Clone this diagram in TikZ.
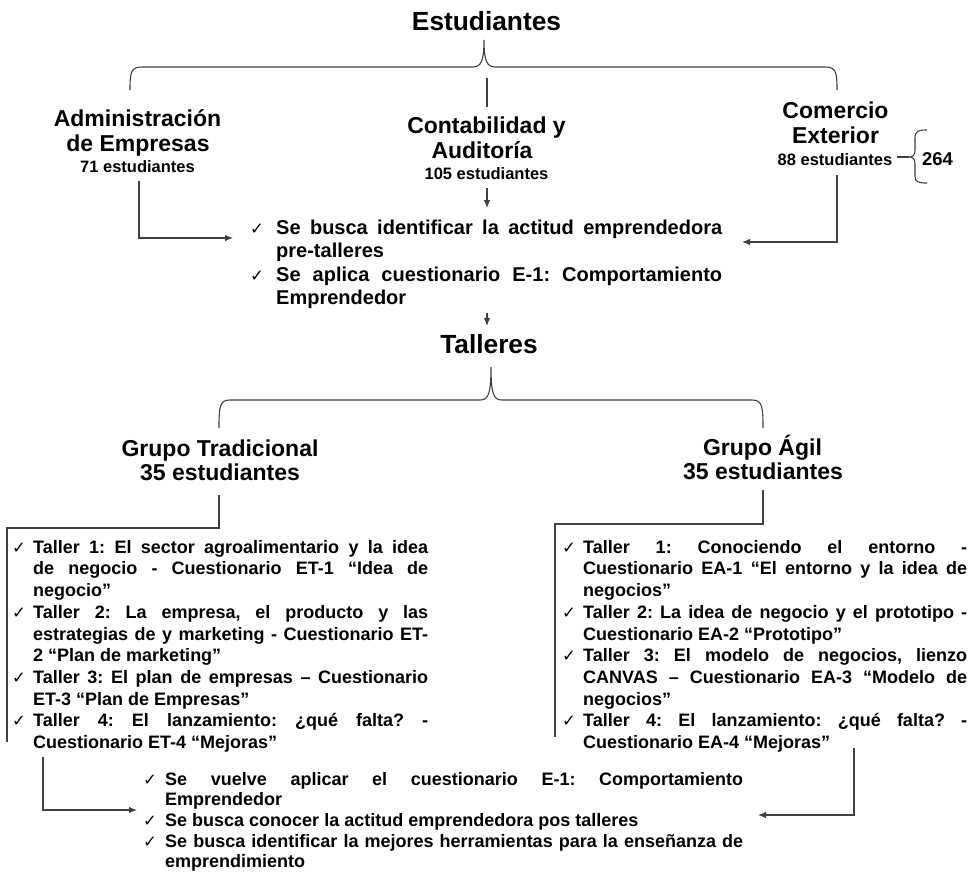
\documentclass[tikz,border=0pt]{standalone}
\usepackage{fontspec}
\setmainfont{Liberation Sans}
\newfontfamily\symfont{DejaVu Sans}
\usetikzlibrary{arrows.meta}
\newcommand{\chk}{{\symfont\fontsize{16.5}{16}\selectfont ✓}}
\newcommand{\chkitem}[2]{\noindent\hangindent=#1\hangafter=1\makebox[#1][l]{\chk}\rule{0pt}{15pt}\ignorespaces#2\par}
\hyphenpenalty=10000
\frenchspacing
\begin{document}
\begin{tikzpicture}[x=1pt,y=-1pt,
  ln/.style={line width=1.1pt, draw=black!75},
  arr/.style={ln, -{Latex[length=8pt,width=6.5pt]}},
  titletext/.style={font=\fontsize{26.3}{30}\selectfont\bfseries, inner sep=0, anchor=base},
  headtext/.style={font=\fontsize{23}{26}\selectfont\bfseries, inner sep=0, anchor=base},
  subtext/.style={font=\fontsize{16.5}{19}\selectfont\bfseries, inner sep=0, anchor=base},
  numtext/.style={font=\fontsize{18.5}{21}\selectfont\bfseries, inner sep=0, anchor=base},
  listA/.style={font=\fontsize{20}{23.5}\selectfont\bfseries\frenchspacing, inner sep=0, anchor=north west, align=justify},
  listB/.style={font=\fontsize{18}{21.7}\selectfont\bfseries\frenchspacing, inner sep=0, anchor=north west, align=justify},
  listC/.style={font=\fontsize{18}{20.6}\selectfont\bfseries\frenchspacing, inner sep=0, anchor=north west, align=justify}
]
\fill[white] (0,0) rectangle (971,876);
\useasboundingbox (0,0) rectangle (971,876);

% headings
\node[titletext] (est) at (486.5,30) {Estudiantes};
\node[headtext] (adm1) at (137.5,126) {Administración};
\node[headtext] (adm2) at (138,151) {de Empresas};
\node[subtext] (adm3) at (137.5,172) {71 estudiantes};
\node[headtext] (con1) at (486.5,133) {Contabilidad y};
\node[headtext] (con2) at (482,158) {Auditoría};
\node[subtext] (con3) at (486.5,179) {105 estudiantes};
\node[headtext] (com1) at (835.5,118) {Comercio};
\node[headtext] (com2) at (835.5,143) {Exterior};
\node[subtext] (com3) at (835,165) {88 estudiantes};
\node[numtext] (tot) at (937.5,165) {264};

% top brace
\draw[ln] (130,90) .. controls (130,72) and (131,67) .. (142,67) -- (472,67)
  .. controls (481,67) and (484,62) .. (484,40)
  .. controls (484,62) and (487,67) .. (496,67) -- (825,67)
  .. controls (836,67) and (837,72) .. (837,90);
\coordinate (cl1) at (487,78); \coordinate (cl2) at (487,107);
\draw[ln] (cl1) -- (cl2);

% 264 brace
\coordinate (d1) at (897,157); \coordinate (d2) at (909,157);
\draw[ln] (d1) -- (d2);
\draw[ln] (927,130) .. controls (918,130) and (915,131) .. (915,138) -- (915,150)
  .. controls (915,155) and (913,157) .. (d2)
  .. controls (913,157) and (915,159) .. (915,164) -- (915,176)
  .. controls (915,182) and (918,183) .. (927,183);

% first list
\node[listA, text width=472pt] (pre) at (250,219) {%
\chkitem{26pt}{Se busca identificar la actitud emprendedora \linebreak pre-talleres}%
\chkitem{26pt}{Se aplica cuestionario E-1: Comportamiento \linebreak Emprendedor}};

\coordinate (a1) at (139,181); \coordinate (a2) at (233,238);
\draw[arr] (a1) |- (a2);
\coordinate (c1) at (837,175); \coordinate (c2) at (742,242);
\draw[arr] (c1) |- (c2);
\coordinate (b1) at (487,188); \coordinate (b2) at (487,208);
\draw[arr] (b1) -- (b2);
\coordinate (e1) at (487,313); \coordinate (e2) at (487,326);
\draw[arr] (e1) -- (e2);

\node[titletext] (tal) at (489,353) {Talleres};

% second brace
\draw[ln] (219,428) .. controls (219,406) and (220,400) .. (230,400) -- (480,400)
  .. controls (488,400) and (491,395) .. (491,367)
  .. controls (491,395) and (494,400) .. (502,400) -- (752,400)
  .. controls (762,400) and (763,406) .. (763,428);

\node[headtext] (gt1) at (220,456) {Grupo Tradicional};
\node[headtext] (gt2) at (220,480) {35 estudiantes};
\node[headtext] (ga1) at (762.5,455) {Grupo Ágil};
\node[headtext] (ga2) at (763,479) {35 estudiantes};

\coordinate (gl1) at (219,495); \coordinate (gl2) at (7,528); \coordinate (gl3) at (7,742);
\draw[ln] (gl1) |- (gl2) -- (gl3);
\coordinate (gr1) at (763,490); \coordinate (gr2) at (555,524); \coordinate (gr3) at (555,737);
\draw[ln] (gr1) |- (gr2) -- (gr3);

\node[listB, text width=416pt] (boxL) at (12,538) {%
\chkitem{21pt}{Taller 1: El sector agroalimentario y la idea \linebreak de negocio - Cuestionario ET-1 “Idea de \linebreak negocio”}%
\chkitem{21pt}{Taller 2: La empresa, el producto y las \linebreak estrategias de y marketing - Cuestionario ET-\linebreak 2 “Plan de marketing”}%
\chkitem{21pt}{Taller 3: El plan de empresas – Cuestionario \linebreak ET-3 “Plan de Empresas”}%
\chkitem{21pt}{Taller 4: El lanzamiento: ¿qué falta? - \linebreak Cuestionario ET-4 “Mejoras”}};

\node[listB, text width=405pt] (boxR) at (562,538) {%
\chkitem{21pt}{Taller 1: Conociendo el entorno - \linebreak Cuestionario EA-1 “El entorno y la idea de \linebreak negocios”}%
\chkitem{21pt}{Taller 2: La idea de negocio y el prototipo - \linebreak Cuestionario EA-2 “Prototipo”}%
\chkitem{21pt}{Taller 3: El modelo de negocios, lienzo \linebreak CANVAS – Cuestionario EA-3 “Modelo de \linebreak negocios”}%
\chkitem{21pt}{Taller 4: El lanzamiento: ¿qué falta? - \linebreak Cuestionario EA-4 “Mejoras”}};

% bottom
\node[listC, text width=600pt] (post) at (143,770) {%
\chkitem{22pt}{Se vuelve aplicar el cuestionario E-1: Comportamiento \linebreak Emprendedor}%
\chkitem{22pt}{Se busca conocer la actitud emprendedora pos talleres}%
\chkitem{22pt}{Se busca identificar la mejores herramientas para la enseñanza de \linebreak emprendimiento}};

\coordinate (f1) at (43,757); \coordinate (f2) at (137,810);
\draw[arr] (f1) |- (f2);
\coordinate (h1) at (854,748); \coordinate (h2) at (758,815);
\draw[arr] (h1) |- (h2);
\end{tikzpicture}
\end{document}
